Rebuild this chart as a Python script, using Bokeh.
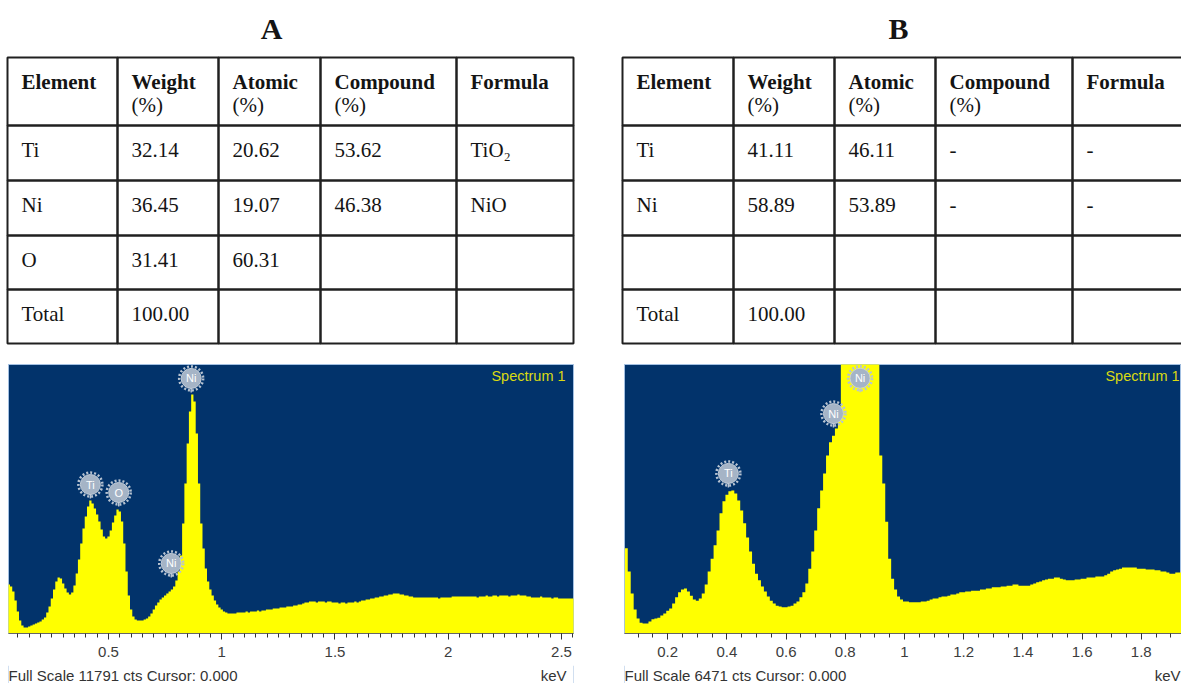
import numpy as np
from bokeh.plotting import figure
from bokeh.layouts import column, row
from bokeh.models import Range1d, FixedTicker, CustomJSTickFormatter
from bokeh.embed import file_html
from bokeh.resources import INLINE
from bokeh.core.properties import value

# ------------------------------------------------------------------ data
panel_titles = ["A", "B"]
header_line1 = ["Element", "Weight", "Atomic", "Compound", "Formula"]
header_line2 = ["", "(%)", "(%)", "(%)", ""]

elements_a = ["Ti", "Ni", "O", "Total"]
weight_a = ["32.14", "36.45", "31.41", "100.00"]
atomic_a = ["20.62", "19.07", "60.31", ""]
compound_a = ["53.62", "46.38", "", ""]
formula_a = ["TiO\u2082", "NiO", "", ""]

elements_b = ["Ti", "Ni", "", "Total"]
weight_b = ["41.11", "58.89", "", "100.00"]
atomic_b = ["46.11", "53.89", "", ""]
compound_b = ["-", "-", "", ""]
formula_b = ["-", "-", "", ""]

# EDS spectra, counts per 0.01 keV channel (first channel centred at 0.06 keV)
full_scale_a = 11791
counts_a = [
    2150, 2060, 1840, 1450, 960, 570, 350, 260, 260, 310,
    350, 390, 440, 480, 530, 610, 700, 920, 1180, 1530,
    1930, 2280, 2450, 2410, 2190, 1970, 1800, 1710, 1800, 2100,
    2630, 3240, 3940, 4600, 5130, 5570, 5830, 5700, 5480, 5220,
    4910, 4560, 4250, 4160, 4250, 4510, 4870, 5170, 5430, 5350,
    4910, 3940, 2720, 1670, 1050, 750, 610, 570, 570, 570,
    610, 660, 750, 880, 1050, 1230, 1360, 1490, 1580, 1670,
    1750, 1840, 1930, 2060, 2320, 2720, 3420, 4820, 6570, 8330,
    9730, 10480, 10170, 8770, 6570, 4820, 3730, 2850, 2280, 1930,
    1670, 1450, 1270, 1140, 1050, 960, 920, 880, 880, 880,
    880, 920, 920, 920, 920, 960, 920, 960, 960, 960,
    1010, 960, 1010, 1010, 1050, 1050, 1050, 1100, 1100, 1100,
    1140, 1140, 1140, 1180, 1180, 1180, 1230, 1230, 1270, 1270,
    1310, 1360, 1360, 1400, 1400, 1400, 1360, 1400, 1400, 1400,
    1360, 1400, 1400, 1360, 1360, 1360, 1310, 1360, 1360, 1310,
    1360, 1360, 1360, 1400, 1360, 1400, 1450, 1450, 1490, 1490,
    1530, 1530, 1580, 1580, 1620, 1620, 1670, 1670, 1710, 1710,
    1750, 1750, 1750, 1710, 1710, 1670, 1670, 1620, 1620, 1580,
    1580, 1580, 1580, 1580, 1580, 1580, 1580, 1580, 1580, 1580,
    1530, 1580, 1580, 1580, 1580, 1580, 1620, 1620, 1620, 1620,
    1620, 1620, 1620, 1620, 1620, 1620, 1620, 1580, 1620, 1620,
    1620, 1670, 1620, 1620, 1670, 1670, 1620, 1670, 1670, 1670,
    1670, 1620, 1670, 1670, 1670, 1710, 1670, 1670, 1670, 1620,
    1620, 1580, 1580, 1580, 1580, 1620, 1580, 1580, 1580, 1580,
    1530, 1580, 1580, 1530, 1530, 1530, 1530, 1530, 1530, 1530,
]
full_scale_b = 6471
counts_b = [
    2050, 1490, 960, 580, 360, 260, 240, 240, 290, 340,
    360, 380, 430, 480, 550, 600, 720, 870, 990, 1060,
    1080, 1010, 910, 820, 790, 840, 960, 1180, 1490, 1800,
    2120, 2480, 2890, 3180, 3340, 3420, 3440, 3370, 3200, 2960,
    2650, 2310, 1970, 1680, 1440, 1280, 1130, 1010, 890, 790,
    720, 670, 650, 630, 630, 650, 670, 720, 770, 870,
    990, 1200, 1560, 1970, 2480, 3010, 3440, 3850, 4280, 4600,
    4760, 4930, 5250, 6980, 7940, 8660, 9140, 9500, 9620, 9620,
    9380, 8900, 8300, 7700, 7100, 6620, 4280, 3610, 2690, 1800,
    1320, 1060, 890, 820, 770, 770, 750, 750, 750, 750,
    770, 770, 790, 820, 840, 840, 870, 890, 890, 910,
    940, 940, 960, 990, 990, 1010, 1010, 1030, 1030, 1030,
    1060, 1060, 1080, 1080, 1110, 1110, 1110, 1130, 1130, 1150,
    1150, 1180, 1180, 1150, 1150, 1150, 1150, 1180, 1200, 1230,
    1250, 1280, 1300, 1320, 1320, 1350, 1350, 1320, 1300, 1280,
    1280, 1280, 1300, 1300, 1320, 1320, 1350, 1350, 1350, 1370,
    1370, 1370, 1400, 1440, 1490, 1520, 1540, 1560, 1590, 1590,
    1590, 1590, 1590, 1560, 1560, 1560, 1540, 1540, 1540, 1520,
    1520, 1490, 1490, 1470, 1440, 1440, 1470, 1470, 1490,
]
first_channel_kev = 0.06
channel_kev = 0.01

peak_names_a = ["Ti", "O", "Ni", "Ni"]
peak_kev_a = [0.42, 0.545, 0.777, 0.865]
peak_marker_cts_a = [6530, 6180, 3070, 11180]

peak_names_b = ["Ti", "Ni", "Ni"]
peak_kev_b = [0.405, 0.760, 0.850]
peak_marker_cts_b = [3850, 5290, 6140]

ticks_a = [0.5, 1, 1.5, 2, 2.5]
ticks_b = [0.2, 0.4, 0.6, 0.8, 1, 1.2, 1.4, 1.6, 1.8]

# ------------------------------------------------------------------ styles
SERIF = "Liberation Serif"
SANS = "Liberation Sans"
NAVY = "#02336b"
YELLOW = "#ffff00"
INK = "#141414"
EDGE = "#a3c0e2"

PAGE_W = 1181
TOP_H = 355
SPEC_H = 310
STRIP_H = 18
FRAME_H = 269
col_edges_a = [7, 117, 218, 320, 456, 573]
col_edges_b = [622, 733, 834, 935, 1072, 1190]
row_edges = [57, 125, 180, 235, 289, 343]
title_x = [271, 898]
title_mid = 28
pad_left = 14
text_mid = 24      # text centre below a row's top line
header2_mid = 47   # second header line centre below the table top

# ------------------------------------------------------------------ tables
top = figure(width=PAGE_W, height=TOP_H, x_range=Range1d(0, PAGE_W),
             y_range=Range1d(TOP_H, 0), output_backend="svg",
             toolbar_location=None, title=None, x_axis_location=None,
             y_axis_location=None, min_border=0, outline_line_color=None)
top.grid.visible = False

top.text(x=title_x, y=[title_mid] * 2, text=panel_titles,
         text_font=value(SERIF), text_font_style="bold", text_font_size="30px",
         text_align="center", text_baseline="middle", text_color=INK)


def draw_table(p, cols, columns):
    L, R, T, B = [], [], [], []
    for r in range(len(row_edges) - 1):
        for c in range(len(cols) - 1):
            L.append(cols[c]); R.append(cols[c + 1])
            T.append(row_edges[r]); B.append(row_edges[r + 1])
    p.quad(left=L, right=R, top=T, bottom=B, fill_color=None,
           line_color="#202020", line_width=2)
    hx = [c + pad_left for c in cols[:-1]]
    p.text(x=hx, y=[row_edges[0] + text_mid] * 5, text=header_line1,
           text_font=value(SERIF), text_font_style="bold", text_font_size="21px",
           text_baseline="middle", text_color=INK)
    p.text(x=hx, y=[row_edges[0] + header2_mid] * 5, text=header_line2,
           text_font=value(SERIF), text_font_size="21px",
           text_baseline="middle", text_color=INK)
    xs, ys, ts = [], [], []
    for c, col in enumerate(columns):
        for r, t in enumerate(col):
            xs.append(cols[c] + pad_left)
            ys.append(row_edges[r + 1] + text_mid)
            ts.append(t)
    p.text(x=xs, y=ys, text=ts, text_font=value(SERIF), text_font_size="21px",
           text_baseline="middle", text_color=INK)


draw_table(top, col_edges_a, [elements_a, weight_a, atomic_a, compound_a, formula_a])
draw_table(top, col_edges_b, [elements_b, weight_b, atomic_b, compound_b, formula_b])

# ------------------------------------------------------------------ spectra


def spectrum(counts, full_scale, x0, x1, width, bl, br, ticks, names, pk, pc,
             spec_label_x, spec_label_align):
    p = figure(width=width, height=SPEC_H, x_range=Range1d(x0, x1),
               y_range=Range1d(0, full_scale), output_backend="svg",
               toolbar_location=None, title=None, y_axis_location=None,
               min_border_left=bl, min_border_right=br, min_border_top=9,
               min_border_bottom=SPEC_H - 9 - FRAME_H,
               background_fill_color=NAVY, border_fill_color="white",
               outline_line_color=EDGE, outline_line_width=1)
    p.grid.visible = False
    cpp = full_scale / FRAME_H  # counts per screen pixel

    # histogram outline from the channel counts
    energy = first_channel_kev + channel_kev * np.arange(len(counts))
    left = energy - channel_kev / 2
    right = energy + channel_kev / 2
    xs = np.column_stack([left, right]).ravel()
    ys = np.repeat(np.asarray(counts, dtype=float), 2)
    p.varea(x=xs, y1=np.zeros_like(ys), y2=ys, fill_color=YELLOW)

    ax = p.xaxis[0]
    ax.ticker = FixedTicker(ticks=ticks,
                            minor_ticks=list(np.round(np.arange(0.05, x1 + 0.05, 0.05), 2)))
    ax.formatter = CustomJSTickFormatter(code="return String(Math.round(tick*10)/10)")
    ax.major_label_text_font = SANS
    ax.major_label_text_font_size = "15px"
    ax.major_label_text_color = "#3c3c3c"
    ax.major_label_standoff = 7
    ax.major_tick_in = 0
    ax.major_tick_out = 6
    ax.minor_tick_in = 0
    ax.minor_tick_out = 4
    ax.major_tick_line_color = "#333333"
    ax.minor_tick_line_color = "#333333"
    ax.axis_line_color = "#666666"

    # peak markers
    stem_end = [c - 14 * cpp for c in pc]
    p.segment(x0=pk, y0=pc, x1=pk, y1=stem_end, line_color="#b9c5d3", line_width=1.5)
    p.scatter(x=pk, y=pc, size=24, marker="circle", fill_color=None,
              line_color="#b7c3d1", line_width=2.5, line_dash="2 2")
    p.scatter(x=pk, y=pc, size=20, marker="circle", fill_color="#a5b4c6",
              line_color="#c4ced9", line_width=1)
    p.text(x=pk, y=pc, text=names, text_font=value(SANS), text_font_size="11px",
           text_align="center", text_baseline="middle", text_color="white")

    p.text(x=[spec_label_x], y=[full_scale - 11 * cpp], text=["Spectrum 1"],
           text_font=value(SANS), text_font_size="14.5px", text_align=spec_label_align,
           text_baseline="middle", text_color="#dada12")
    return p


def status_strip(frame_left, frame_right, bl, br, full_scale, kev_x, kev_align):
    # the layout aligns this strip's frame with the spectrum frame above it,
    # so its x range is given in page pixels of that frame
    s = figure(width=bl + (frame_right - frame_left) + br, height=STRIP_H,
               x_range=Range1d(frame_left, frame_right),
               y_range=Range1d(STRIP_H, 0), output_backend="svg",
               toolbar_location=None, title=None, x_axis_location=None,
               y_axis_location=None, min_border_left=bl, min_border_right=br,
               min_border_top=0, min_border_bottom=0, outline_line_color=None)
    s.grid.visible = False
    s.segment(x0=[frame_left, frame_right], y0=[0, 0], x1=[frame_left, frame_right],
              y1=[STRIP_H, STRIP_H], line_color=EDGE, line_width=1)
    s.text(x=[frame_left, kev_x], y=[10, 10],
           text=[f"Full Scale {full_scale} cts Cursor: 0.000", "keV"],
           text_font=value(SANS), text_font_size="15px", text_color="#333333",
           text_align=["left", kev_align], text_baseline="middle")
    return s


spec_a = spectrum(counts_a, full_scale_a, 0.0585, 2.553, 616, 8, 43, ticks_a,
                  peak_names_a, peak_kev_a, peak_marker_cts_a, 2.518, "right")
spec_b = spectrum(counts_b, full_scale_b, 0.054, 1.936, 565, 8, 0, ticks_b,
                  peak_names_b, peak_kev_b, peak_marker_cts_b, 1.679, "left")
strip_a = status_strip(8, 573, 8, 43, full_scale_a, 566, "right")
strip_b = status_strip(624, 1181, 8, 0, full_scale_b, 1180, "right")

layout = column(top, row(column(spec_a, strip_a), column(spec_b, strip_b)))
open("out.html", "w").write(file_html(layout, INLINE))
